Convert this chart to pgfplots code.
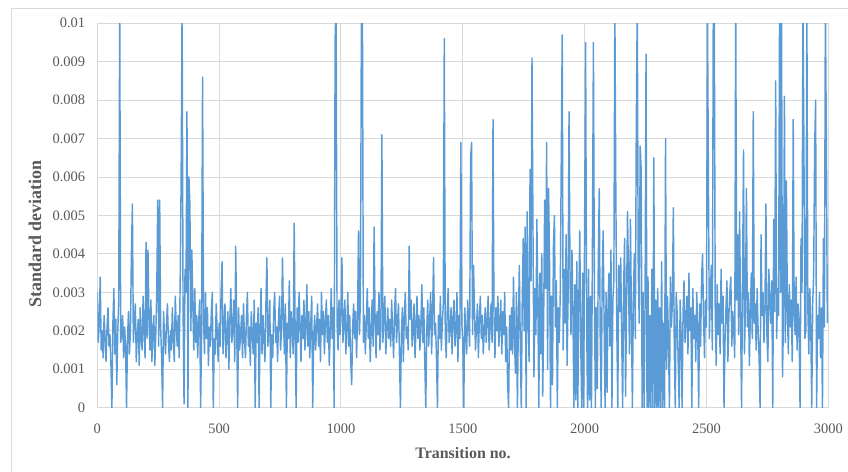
\documentclass[border=0pt]{standalone}
\usepackage{pgfplots}
\pgfplotsset{compat=1.18}
\usepackage{pgfplotstable}
\usepackage{fontspec}
\setmainfont{Liberation Serif}

\definecolor{seriesblue}{HTML}{5B9BD5}
\definecolor{gridgray}{HTML}{D9D9D9}
\definecolor{labelgray}{HTML}{595959}

% standard deviation per transition, one value every 4 transitions
\pgfplotstableread[row sep=\\]{
sd\\
0.0030\\ 0.0017\\ 0.0022\\ 0.0034\\ 0.0015\\ 0.0020\\ 0.0013\\ 0.0024\\ 0.0018\\ 0.0012\\ 0.0021\\ 0.0026\\ 0.0016\\ 0.0019\\ 0.0011\\ 0\\ 0.0022\\ 0.0031\\ 0.0014\\ 0.0023\\ 0.0006\\ 0.0020\\ 0.0028\\ 0.0105\\ 0.0017\\
0.0019\\ 0.0024\\ 0.0013\\ 0.0021\\ 0.0016\\ 0\\ 0.0018\\ 0.0025\\ 0.0014\\ 0.0020\\ 0.0040\\ 0.0053\\ 0.0017\\ 0.0022\\ 0.0027\\ 0.0012\\ 0.0019\\ 0.0023\\ 0.0011\\ 0.0026\\ 0.0018\\ 0.0015\\ 0.0029\\ 0.0020\\ 0.0013\\
0.0043\\ 0.0018\\ 0.0041\\ 0.0023\\ 0.0015\\ 0.0028\\ 0.0012\\ 0.0020\\ 0.0024\\ 0.0011\\ 0.0019\\ 0.0030\\ 0.0054\\ 0.0016\\ 0.0054\\ 0.0021\\ 0.0013\\ 0\\ 0.0025\\ 0.0018\\ 0.0014\\ 0.0022\\ 0.0027\\ 0.0017\\ 0.0012\\
0.0020\\ 0.0015\\ 0.0026\\ 0.0018\\ 0.0012\\ 0.0029\\ 0.0021\\ 0.0016\\ 0.0024\\ 0.0013\\ 0.0032\\ 0.0059\\ 0.0105\\ 0.0025\\ 0.0001\\ 0.0036\\ 0.0030\\ 0.0077\\ 0\\ 0.0060\\ 0.0053\\ 0.0020\\ 0.0041\\ 0.0027\\ 0.0015\\
0.0031\\ 0.0017\\ 0.0024\\ 0.0013\\ 0.0022\\ 0.0028\\ 0\\ 0.0019\\ 0.0086\\ 0.0023\\ 0.0014\\ 0.0030\\ 0.0018\\ 0.0026\\ 0.0011\\ 0.0021\\ 0.0016\\ 0.0025\\ 0.0030\\ 0\\ 0.0018\\ 0.0014\\ 0.0027\\ 0.0020\\ 0.0012\\
0.0022\\ 0.0016\\ 0.0030\\ 0.0038\\ 0.0014\\ 0.0021\\ 0.0027\\ 0.0013\\ 0.0019\\ 0.0025\\ 0.0010\\ 0.0023\\ 0.0031\\ 0.0017\\ 0.0020\\ 0.0028\\ 0.0012\\ 0.0042\\ 0.0022\\ 0\\ 0.0026\\ 0.0015\\ 0.0019\\ 0.0024\\ 0.0013\\
0.0027\\ 0.0018\\ 0.0013\\ 0.0023\\ 0.0030\\ 0.0016\\ 0.0021\\ 0.0011\\ 0.0025\\ 0.0019\\ 0.0014\\ 0.0028\\ 0\\ 0.0022\\ 0.0017\\ 0.0026\\ 0\\ 0.0020\\ 0.0031\\ 0.0014\\ 0.0024\\ 0.0018\\ 0.0012\\ 0.0027\\ 0.0039\\
0.0016\\ 0.0022\\ 0.0028\\ 0\\ 0.0019\\ 0.0013\\ 0.0025\\ 0.0030\\ 0.0017\\ 0.0021\\ 0.0012\\ 0.0024\\ 0.0029\\ 0.0015\\ 0.0020\\ 0.0039\\ 0.0023\\ 0.0014\\ 0.0027\\ 0\\ 0.0022\\ 0.0018\\ 0.0033\\ 0.0013\\ 0.0025\\
0.0020\\ 0.0014\\ 0.0048\\ 0.0019\\ 0\\ 0.0026\\ 0.0017\\ 0.0030\\ 0.0022\\ 0.0012\\ 0.0024\\ 0.0018\\ 0.0028\\ 0.0015\\ 0.0021\\ 0.0032\\ 0.0016\\ 0.0025\\ 0.0013\\ 0.0022\\ 0.0029\\ 0\\ 0.0018\\ 0.0024\\ 0.0015\\
0.0021\\ 0.0027\\ 0.0016\\ 0.0023\\ 0.0012\\ 0.0030\\ 0.0019\\ 0.0025\\ 0.0014\\ 0.0022\\ 0.0028\\ 0.0017\\ 0.0024\\ 0.0011\\ 0.0020\\ 0.0031\\ 0.0018\\ 0.0026\\ 0\\ 0.0096\\ 0.0105\\ 0.0022\\ 0.0015\\ 0.0028\\ 0.0019\\
0.0025\\ 0.0039\\ 0.0017\\ 0.0022\\ 0.0028\\ 0.0014\\ 0.0020\\ 0.0030\\ 0.0016\\ 0.0024\\ 0.0012\\ 0.0006\\ 0.0021\\ 0.0027\\ 0.0018\\ 0.0025\\ 0.0013\\ 0.0023\\ 0.0046\\ 0.0019\\ 0.0029\\ 0.0105\\ 0.0105\\ 0.0017\\ 0.0024\\
0.0014\\ 0.0022\\ 0.0031\\ 0.0018\\ 0.0026\\ 0.0012\\ 0.0020\\ 0.0028\\ 0.0016\\ 0.0047\\ 0.0023\\ 0.0013\\ 0.0025\\ 0.0019\\ 0.0030\\ 0.0015\\ 0.0021\\ 0.0071\\ 0.0017\\ 0.0024\\ 0.0029\\ 0.0014\\ 0.0020\\ 0.0026\\ 0.0018\\
0.0023\\ 0.0016\\ 0.0028\\ 0.0020\\ 0.0013\\ 0.0025\\ 0.0031\\ 0.0017\\ 0.0022\\ 0.0027\\ 0.0014\\ 0\\ 0.0019\\ 0.0026\\ 0.0012\\ 0.0024\\ 0.0030\\ 0.0018\\ 0.0021\\ 0.0015\\ 0.0042\\ 0.0023\\ 0.0028\\ 0.0016\\ 0.0020\\
0.0027\\ 0.0013\\ 0.0021\\ 0.0029\\ 0.0018\\ 0.0024\\ 0.0015\\ 0.0022\\ 0.0032\\ 0.0017\\ 0.0026\\ 0.0012\\ 0\\ 0.0020\\ 0.0028\\ 0.0016\\ 0.0023\\ 0.0030\\ 0.0014\\ 0.0025\\ 0.0039\\ 0.0019\\ 0.0022\\ 0.0013\\ 0\\
0.0024\\ 0.0018\\ 0.0029\\ 0.0015\\ 0.0022\\ 0.0027\\ 0.0096\\ 0.0019\\ 0.0013\\ 0.0025\\ 0.0031\\ 0.0017\\ 0.0021\\ 0.0026\\ 0.0014\\ 0.0023\\ 0.0028\\ 0.0016\\ 0.0020\\ 0.0030\\ 0.0012\\ 0.0024\\ 0.0018\\ 0.0069\\ 0.0022\\
0.0017\\ 0\\ 0.0026\\ 0.0020\\ 0.0014\\ 0.0028\\ 0.0022\\ 0.0016\\ 0.0065\\ 0.0069\\ 0.0019\\ 0.0037\\ 0.0025\\ 0.0015\\ 0.0021\\ 0.0027\\ 0.0013\\ 0.0023\\ 0.0029\\ 0.0018\\ 0.0024\\ 0.0014\\ 0.0020\\ 0.0026\\ 0.0017\\
0.0023\\ 0.0029\\ 0.0015\\ 0.0021\\ 0.0027\\ 0.0017\\ 0.0075\\ 0.0024\\ 0.0013\\ 0.0026\\ 0.0020\\ 0.0029\\ 0.0016\\ 0.0022\\ 0.0028\\ 0.0014\\ 0.0025\\ 0.0019\\ 0.0030\\ 0.0012\\ 0.0021\\ 0.0006\\ 0\\ 0.0024\\ 0.0015\\
0.0026\\ 0.0014\\ 0.0034\\ 0.0018\\ 0.0009\\ 0.0030\\ 0\\ 0.0022\\ 0.0037\\ 0.0016\\ 0\\ 0.0028\\ 0.0044\\ 0.0020\\ 0.0047\\ 0\\ 0.0051\\ 0.0025\\ 0.0012\\ 0.0062\\ 0.0033\\ 0.0091\\ 0.0046\\ 0.0008\\ 0.0031\\
0.0019\\ 0.0049\\ 0.0027\\ 0\\ 0.0035\\ 0.0014\\ 0.0040\\ 0.0003\\ 0.0024\\ 0.0054\\ 0.0031\\ 0.0069\\ 0.0010\\ 0.0057\\ 0.0038\\ 0\\ 0.0029\\ 0.0006\\ 0.0042\\ 0.0050\\ 0.0021\\ 0.0033\\ 0\\ 0.0026\\ 0.0017\\
0.0030\\ 0.0064\\ 0.0097\\ 0.0015\\ 0.0036\\ 0.0022\\ 0.0045\\ 0.0011\\ 0.0028\\ 0.0077\\ 0.0034\\ 0.0019\\ 0.0041\\ 0.0025\\ 0\\ 0.0032\\ 0.0002\\ 0.0038\\ 0\\ 0.0027\\ 0.0046\\ 0.0017\\ 0\\ 0.0035\\ 0\\
0.0048\\ 0.0095\\ 0.0024\\ 0\\ 0.0036\\ 0.0002\\ 0.0029\\ 0\\ 0.0042\\ 0.0095\\ 0.0031\\ 0\\ 0.0026\\ 0.0005\\ 0.0038\\ 0.0057\\ 0.0018\\ 0\\ 0.0033\\ 0.0046\\ 0.0022\\ 0\\ 0.0030\\ 0.0004\\ 0.0027\\
0.0035\\ 0.0016\\ 0.0041\\ 0\\ 0.0028\\ 0.0033\\ 0.0105\\ 0.0056\\ 0.0021\\ 0\\ 0.0037\\ 0.0025\\ 0.0039\\ 0.0019\\ 0\\ 0.0031\\ 0.0044\\ 0.0003\\ 0.0027\\ 0.0051\\ 0.0034\\ 0.0014\\ 0.0049\\ 0.0024\\ 0\\
0.0029\\ 0.0040\\ 0.0018\\ 0.0073\\ 0.0105\\ 0.0036\\ 0.0022\\ 0.0068\\ 0.0062\\ 0\\ 0.0030\\ 0\\ 0.0027\\ 0.0092\\ 0\\ 0.0034\\ 0\\ 0.0024\\ 0\\ 0.0036\\ 0\\ 0.0065\\ 0\\ 0.0028\\ 0\\
0.0031\\ 0\\ 0.0026\\ 0\\ 0.0038\\ 0\\ 0.0022\\ 0\\ 0.0070\\ 0.0010\\ 0.0029\\ 0.0018\\ 0\\ 0.0034\\ 0.0021\\ 0.0027\\ 0.0052\\ 0.0015\\ 0\\ 0.0030\\ 0.0024\\ 0.0012\\ 0\\ 0.0028\\ 0.0019\\
0\\ 0.0025\\ 0.0033\\ 0.0017\\ 0.0022\\ 0.0029\\ 0.0014\\ 0.0035\\ 0.0020\\ 0.0026\\ 0\\ 0.0031\\ 0.0018\\ 0.0024\\ 0.0012\\ 0.0030\\ 0.0021\\ 0\\ 0.0027\\ 0.0016\\ 0.0034\\ 0.0040\\ 0.0023\\ 0.0013\\ 0.0028\\
0.0021\\ 0.0105\\ 0.0059\\ 0.0018\\ 0.0030\\ 0.0037\\ 0.0015\\ 0.0105\\ 0.0105\\ 0.0024\\ 0.0011\\ 0.0032\\ 0.0019\\ 0.0027\\ 0.0014\\ 0.0036\\ 0.0022\\ 0.0029\\ 0\\ 0.0017\\ 0.0026\\ 0.0033\\ 0.0012\\ 0.0024\\ 0.0030\\
0.0034\\ 0.0016\\ 0.0025\\ 0.0020\\ 0.0013\\ 0.0105\\ 0.0028\\ 0.0045\\ 0.0019\\ 0.0051\\ 0.0023\\ 0\\ 0.0032\\ 0.0067\\ 0.0014\\ 0.0027\\ 0.0057\\ 0.0021\\ 0.0030\\ 0.0011\\ 0.0024\\ 0.0035\\ 0.0018\\ 0.0077\\ 0.0022\\
0.0027\\ 0.0015\\ 0.0031\\ 0.0020\\ 0.0013\\ 0\\ 0.0045\\ 0.0024\\ 0.0030\\ 0.0017\\ 0.0026\\ 0.0053\\ 0.0019\\ 0.0012\\ 0.0036\\ 0.0028\\ 0.0022\\ 0.0033\\ 0\\ 0.0049\\ 0.0025\\ 0.0085\\ 0.0018\\ 0.0031\\ 0.0024\\
0.0105\\ 0.0030\\ 0.0105\\ 0.0008\\ 0.0023\\ 0.0081\\ 0.0017\\ 0.0059\\ 0.0026\\ 0.0014\\ 0.0032\\ 0.0021\\ 0.0028\\ 0.0012\\ 0.0075\\ 0.0024\\ 0.0019\\ 0.0034\\ 0.0015\\ 0.0027\\ 0.0022\\ 0\\ 0.0044\\ 0.0030\\ 0.0105\\
0.0067\\ 0.0018\\ 0.0020\\ 0.0105\\ 0.0026\\ 0.0014\\ 0.0031\\ 0.0022\\ 0\\ 0.0027\\ 0.0035\\ 0.0068\\ 0.0080\\ 0\\ 0.0024\\ 0.0018\\ 0.0030\\ 0.0013\\ 0.0026\\ 0\\ 0.0044\\ 0.0021\\ 0.0105\\ 0.0070\\ 0.0022\\
}\sdtable

\begin{document}
\begin{tikzpicture}
\path[use as bounding box] (0bp,0bp) rectangle (848bp,472bp);
% chart area frame
\draw[gridgray, line width=1bp] (11.7bp,-20bp) -- (11.7bp,463bp) -- (900bp,463bp);
\begin{axis}[
  at={(97.3bp,64.3bp)}, anchor=south west,
  scale only axis, width=731bp, height=384.4bp,
  xmin=0, xmax=3000, ymin=0, ymax=0.01,
  xtick={0,500,1000,1500,2000,2500,3000},
  xticklabels={0,500,1000,1500,2000,2500,3000},
  ytick={0,0.001,0.002,0.003,0.004,0.005,0.006,0.007,0.008,0.009,0.01},
  yticklabels={0,0.001,0.002,0.003,0.004,0.005,0.006,0.007,0.008,0.009,0.01},
  scaled x ticks=false, scaled y ticks=false,
  grid=major,
  major grid style={draw=gridgray, line width=1bp},
  axis line style={draw=gridgray, line width=1bp},
  major tick length=0pt, tick style={draw=none},
  ticklabel style={font=\fontsize{14.5}{16}\selectfont, text=labelgray},
  yticklabel style={anchor=east, inner sep=0pt, xshift=-12bp},
  xticklabel style={anchor=north, inner sep=0pt, yshift=-15.5bp},
]
\addplot[seriesblue, line width=1.45bp, line join=round, mark=none]
  table[x expr=\coordindex*4, y=sd] {\sdtable};
\end{axis}
\node[anchor=base, font=\bfseries\fontsize{16}{18}\selectfont, text=labelgray]
  at (463bp,13.7bp) {Transition no.};
\node[anchor=base, rotate=90, font=\bfseries\fontsize{18}{20}\selectfont, text=labelgray]
  at (41bp,238bp) {Standard deviation};
\end{tikzpicture}
\end{document}
